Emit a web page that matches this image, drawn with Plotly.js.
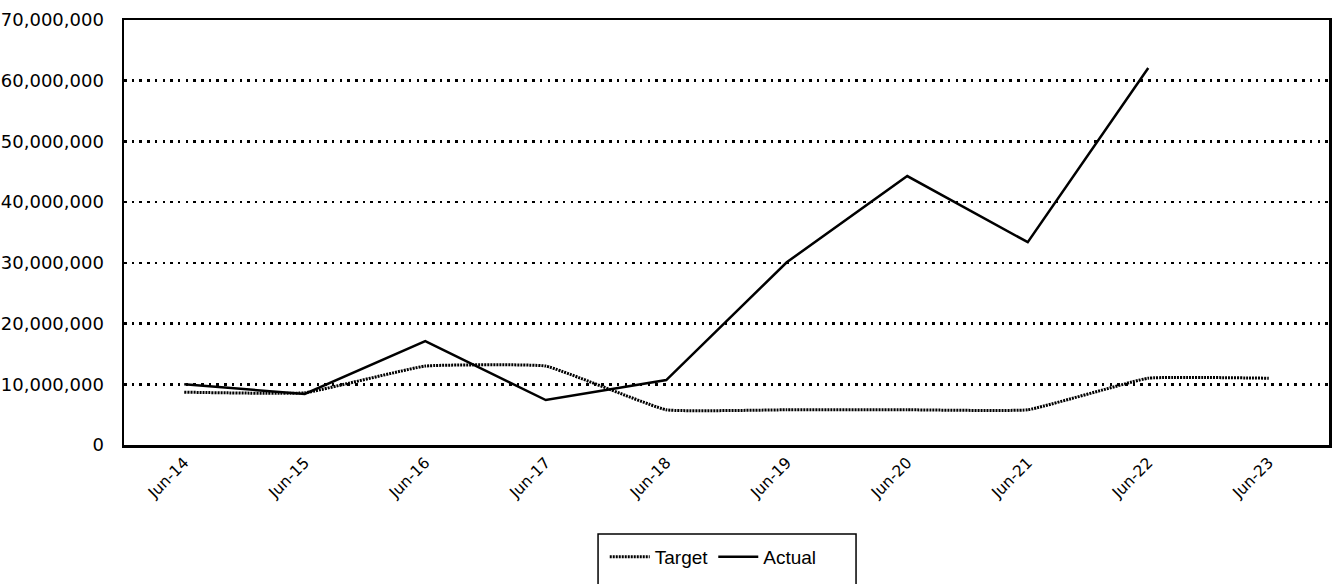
<!DOCTYPE html>
<html>
<head>
<meta charset="utf-8">
<script src="https://cdn.plot.ly/plotly-3.0.1.min.js"></script>
<style>html,body{margin:0;padding:0;background:#fff;}#chart{width:1336px;height:584px;}</style>
</head>
<body>
<div id="chart"></div>
<script>
const categories = ["Jun-14","Jun-15","Jun-16","Jun-17","Jun-18","Jun-19","Jun-20","Jun-21","Jun-22","Jun-23"];
const targetValues = [8700000, 8600000, 13000000, 13000000, 5800000, 5800000, 5800000, 5800000, 11000000, 11000000];
const actualValues = [10000000, 8400000, 17100000, 7400000, 10700000, 30100000, 44300000, 33400000, 62100000, null];
const yTickValues = [0, 10000000, 20000000, 30000000, 40000000, 50000000, 60000000, 70000000];

const traces = [
  {
    x: categories, y: targetValues, name: "Target", type: "scatter", mode: "lines",
    line: {color: "#000", width: 3, dash: "2px,1px", shape: "spline", smoothing: 0.3}
  },
  {
    x: categories, y: actualValues, name: "Actual", type: "scatter", mode: "lines",
    line: {color: "#000", width: 2.5}
  }
];

const layout = {
  width: 1336, height: 584,
  margin: {l: 124, r: 7, t: 20, b: 139},
  paper_bgcolor: "#fff", plot_bgcolor: "#fff",
  showlegend: true,
  legend: {
    orientation: "h", x: 0.489, xanchor: "center", y: -0.263, yanchor: "middle",
    font: {family: "Liberation Sans, Arial, sans-serif", size: 19, color: "#000"},
    bgcolor: "rgba(0,0,0,0)", borderwidth: 0, itemwidth: 40
  },
  xaxis: {
    type: "category", range: [-0.5, 9.5],
    showline: true, linecolor: "#000", linewidth: 2.5, mirror: true,
    showgrid: false, zeroline: false, ticks: "",
    tickangle: -45,
    tickfont: {family: "DejaVu Sans, sans-serif", size: 15.5, color: "#000"}
  },
  yaxis: {
    range: [0, 70000000], tickvals: yTickValues, tickformat: ",d",
    showline: true, linecolor: "#000", linewidth: 2.5, mirror: true,
    showgrid: true, gridcolor: "#000", gridwidth: 2.5, griddash: "2.5px,5.2px",
    zeroline: false, ticks: "", ticklabelstandoff: 14,
    tickfont: {family: "DejaVu Sans, sans-serif", size: 18, color: "#000"}
  },
  shapes: [{
    type: "rect", xref: "paper", yref: "paper",
    x0: 0.3934, x1: 0.6075, y0: -0.2094, y1: -0.40,
    line: {color: "#000", width: 1.5}, fillcolor: "rgba(0,0,0,0)", layer: "above"
  }]
};

Plotly.newPlot("chart", traces, layout, {displayModeBar: false, staticPlot: true});
</script>
</body>
</html>
